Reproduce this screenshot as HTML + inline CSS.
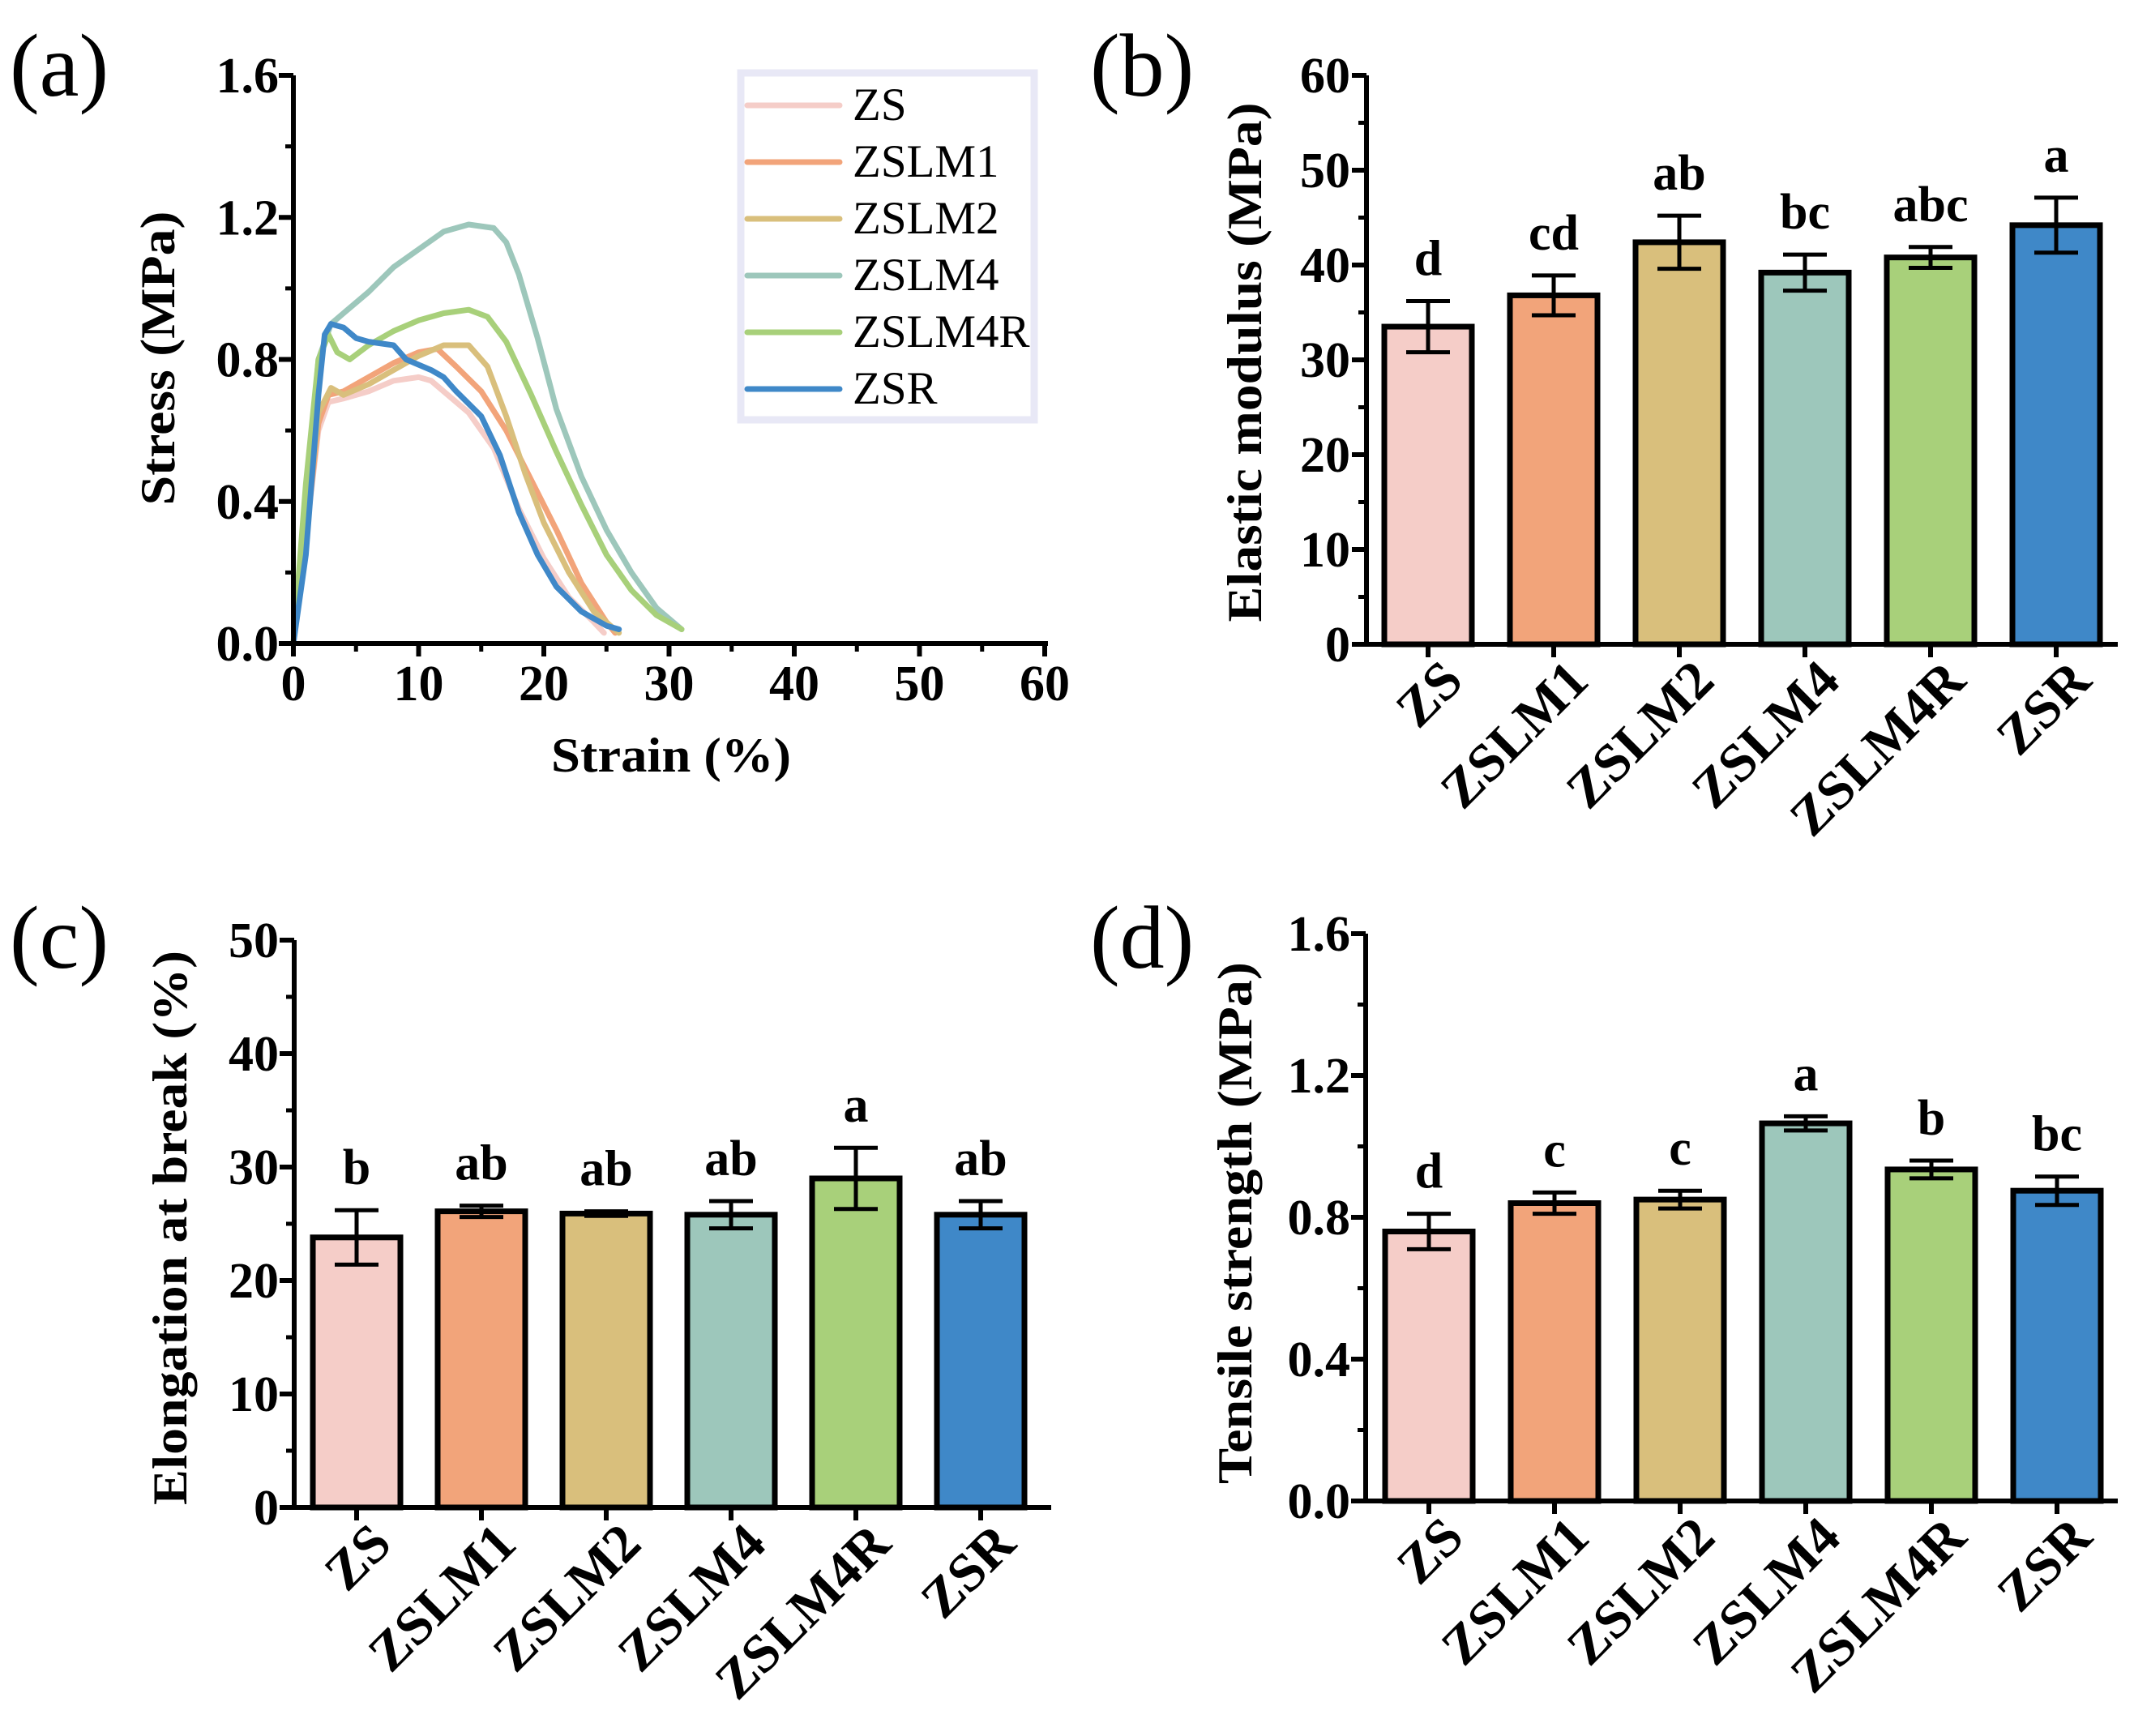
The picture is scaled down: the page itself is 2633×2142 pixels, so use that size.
<!DOCTYPE html>
<html><head><meta charset="utf-8"><style>
html,body{margin:0;padding:0;background:#fff;}
svg{display:block;}
text{font-family:"Liberation Serif","Times New Roman",serif;}
.b{font-weight:bold;}
</style></head><body>
<svg id="fig" width="2633" height="2142" viewBox="0 0 2633 2142" xmlns="http://www.w3.org/2000/svg">
<g id="gA"></g>
<g id="gB"></g>
<g id="gC"></g>
<g id="gD"></g>
</svg>
<script>
const samples = ["ZS","ZSLM1","ZSLM2","ZSLM4","ZSLM4R","ZSR"];
const colors = ["#f5cdc8","#f2a47a","#d9bf7c","#9dc7bb","#a8d07a","#3f88c8"];
// Panel a curves: strain (%) and stress (MPa)
const zsX = [0,1,2,2.8,4,6,8,10,11,12,14,16,18,20,22,24,24.8];
const zsY = [0,0.3,0.6,0.68,0.69,0.71,0.74,0.75,0.74,0.71,0.65,0.55,0.38,0.24,0.13,0.06,0.03];
const m1X = [0,1,2,2.8,4,6,8,10,11.5,13,15,17,19,21,23,25,25.7];
const m1Y = [0,0.3,0.62,0.7,0.71,0.75,0.79,0.82,0.83,0.78,0.71,0.6,0.46,0.32,0.17,0.06,0.03];
const m2X = [0,1,2,3,4,6,8,10,12,14,15.5,17,18.5,20,22,24,26];
const m2Y = [0,0.3,0.65,0.72,0.7,0.73,0.77,0.81,0.84,0.84,0.78,0.64,0.48,0.34,0.2,0.09,0.03];
const m4X = [0,1,2,3,4,6,8,10,12,14,16,17,18,19.5,21,23,25,27,29,31];
const m4Y = [0,0.4,0.8,0.9,0.93,0.99,1.06,1.11,1.16,1.18,1.17,1.13,1.04,0.86,0.66,0.47,0.32,0.2,0.1,0.04];
const m4rX = [0,1,2,2.8,3.5,4.5,6,8,10,12,14,15.5,17,19,21,23,25,27,29,31];
const m4rY = [0,0.45,0.8,0.87,0.82,0.8,0.84,0.88,0.91,0.93,0.94,0.92,0.85,0.7,0.54,0.39,0.25,0.15,0.08,0.04];
const zsrX = [0,1,2,2.5,3,4,5,6,8,9,11,12,13,15,16.5,18,19.5,21,23,25,26];
const zsrY = [0,0.25,0.7,0.87,0.9,0.89,0.86,0.85,0.84,0.8,0.77,0.75,0.71,0.64,0.53,0.37,0.25,0.16,0.09,0.05,0.04];
const aXTicks = [0,10,20,30,40,50,60];
const aYTicks = ["0.0","0.4","0.8","1.2","1.6"];
// Panel b
const modMean = [33.5,36.8,42.4,39.2,40.8,44.2];
const modErr = [2.7,2.1,2.8,1.9,1.1,2.9];
const modLet = ["d","cd","ab","bc","abc","a"];
const bTicks = [0,10,20,30,40,50,60];
// Panel c
const elMean = [23.8,26.1,25.9,25.8,29.0,25.8];
const elErr = [2.4,0.5,0.2,1.2,2.7,1.2];
const elLet = ["b","ab","ab","ab","a","ab"];
const cTicks = [0,10,20,30,40,50];
// Panel d
const tsMean = [0.76,0.84,0.85,1.065,0.935,0.875];
const tsErr = [0.05,0.03,0.025,0.02,0.025,0.04];
const tsLet = ["d","c","c","a","b","bc"];
const dTicks = ["0.0","0.4","0.8","1.2","1.6"];

const NS="http://www.w3.org/2000/svg";
function mk(parent,tag,attrs,txt){const e=document.createElementNS(NS,tag);for(const k in attrs)e.setAttribute(k,attrs[k]);if(txt!==undefined)e.textContent=txt;parent.appendChild(e);return e;}

function panelLabel(g,x,y,s){
  const t=mk(g,'text',{x:x,y:y,'font-size':110},s);
  
  
}
function yTitle(g,cx,cy,len,s){
  const t=mk(g,'text',{x:0,y:0,'font-size':60,'class':'b','text-anchor':'middle',textLength:len,lengthAdjust:'spacingAndGlyphs',transform:`translate(${cx},${cy}) rotate(-90)`},s);
  
  
}
function axes(g,x0,y0,yTop,xEnd){
  const a=mk(g,'path',{d:`M${x0} ${yTop}V${y0}H${xEnd}`,stroke:'#000','stroke-width':6,fill:'none'});
  
  
}
function yAxisTicks(g,x0,y0,yTop,labels,vmax,labelX){
  const n=labels.length;
  for(let i=0;i<n;i++){
    const v=parseFloat(labels[i]);const y=y0-(y0-yTop)*v/vmax;
    const t=mk(g,'line',{x1:x0-18,x2:x0,y1:y,y2:y,stroke:'#000','stroke-width':6});
    
    
    const l=mk(g,'text',{x:labelX,y:y+21,'font-size':62,'class':'b','text-anchor':'end'},labels[i]);
    
    
    if(i<n-1){const ym=y-(y0-yTop)/(n-1)/2;
      const m=mk(g,'line',{x1:x0-10,x2:x0,y1:ym,y2:ym,stroke:'#000','stroke-width':5});
      
      }
  }
}
function barPanel(g,opt){
  const {x0,y0,yTop,xEnd,vmax,cx0,step,mean,err,lets,name}=opt;
  const sy=v=>y0-(y0-yTop)*v/vmax;
  const bw=108;
  for(let i=0;i<samples.length;i++){
    const cx=cx0+step*i;
    const r=mk(g,'rect',{x:cx-bw/2,y:sy(mean[i]),width:bw,height:y0-sy(mean[i]),fill:colors[i],stroke:'#000','stroke-width':7});
    
    
    const yt=sy(mean[i]+err[i]),yb=sy(mean[i]-err[i]);
    const e=mk(g,'path',{d:`M${cx-27} ${yt}H${cx+27}M${cx} ${yt}V${yb}M${cx-27} ${yb}H${cx+27}`,stroke:'#000','stroke-width':5,fill:'none'});
    
    
    const l=mk(g,'text',{x:cx,y:yt-32,'font-size':62,'class':'b','text-anchor':'middle'},lets[i]);
    
    
    const tk=mk(g,'line',{x1:cx,x2:cx,y1:y0,y2:y0+16,stroke:'#000','stroke-width':6});
    
    
    const c=mk(g,'text',{x:0,y:0,'font-size':67,'class':'b','text-anchor':'end',transform:`translate(${cx+46},${y0+48}) rotate(-45)`},samples[i]);
    
    
  }
  axes(g,x0,y0,yTop,xEnd);
}

// ---------- Panel A ----------
(function(){
  const g=document.getElementById('gA');
  const x0=362,y0=794,yTop=93,x60=1289;
  const sx=v=>x0+(x60-x0)*v/60, sy=v=>y0-(y0-yTop)*v/1.6;
  panelLabel(g,12,118,'(a)');
  const series=[[zsX,zsY],[m1X,m1Y],[m2X,m2Y],[m4X,m4Y],[m4rX,m4rY],[zsrX,zsrY]];
  series.forEach((s,i)=>{
    const d=s[0].map((x,j)=>(j?'L':'M')+sx(x).toFixed(1)+' '+sy(s[1][j]).toFixed(1)).join('');
    const p=mk(g,'path',{d:d,stroke:colors[i],'stroke-width':7,fill:'none','stroke-linejoin':'round','stroke-linecap':'round'});
    
    
  });
  axes(g,x0,y0,yTop,x60+4);
  yAxisTicks(g,x0,y0,yTop,aYTicks,1.6,344);
  aXTicks.forEach((v,i)=>{
    const x=sx(v);
    const t=mk(g,'line',{x1:x,x2:x,y1:y0,y2:y0+16,stroke:'#000','stroke-width':6});
    
    
    const l=mk(g,'text',{x:x,y:y0+70,'font-size':62,'class':'b','text-anchor':'middle'},String(v));
    
    
    if(i<aXTicks.length-1){const xm=sx(v+5);
      const m=mk(g,'line',{x1:xm,x2:xm,y1:y0,y2:y0+10,stroke:'#000','stroke-width':5});
      
      }
  });
  const xt=mk(g,'text',{x:828,y:952,'font-size':60,'class':'b','text-anchor':'middle',textLength:296,lengthAdjust:'spacingAndGlyphs'},'Strain (%)');
  
  
  yTitle(g,215,442,363,'Stress (MPa)');
  const lg=mk(g,'g',{});
  
  
  mk(lg,'rect',{x:914,y:90,width:362,height:428,fill:'#fff',stroke:'#e8e8f6','stroke-width':9});
  samples.forEach((s,i)=>{
    const y=130+70*i;
    const e=mk(lg,'g',{});
    
    
    mk(e,'line',{x1:922,x2:1036,y1:y,y2:y,stroke:colors[i],'stroke-width':7,'stroke-linecap':'round'});
    mk(e,'text',{x:1052,y:y+18,'font-size':57},s);
  });
})();

// ---------- Panel B ----------
(function(){
  const g=document.getElementById('gB');
  panelLabel(g,1345,118,'(b)');
  barPanel(g,{x0:1686,y0:795,yTop:93,xEnd:2613,vmax:60,cx0:1762,step:155,mean:modMean,err:modErr,lets:modLet,name:'modulus'});
  yAxisTicks(g,1686,795,93,bTicks.map(String),60,1666);
  yTitle(g,1556,447,641,'Elastic modulus (MPa)');
})();

// ---------- Panel C ----------
(function(){
  const g=document.getElementById('gC');
  panelLabel(g,12,1194,'(c)');
  barPanel(g,{x0:363,y0:1860,yTop:1160,xEnd:1297,vmax:50,cx0:440,step:154,mean:elMean,err:elErr,lets:elLet,name:'elongation'});
  yAxisTicks(g,363,1860,1160,cTicks.map(String),50,344);
  yTitle(g,230,1515,684,'Elongation at break (%)');
})();

// ---------- Panel D ----------
(function(){
  const g=document.getElementById('gD');
  panelLabel(g,1345,1194,'(d)');
  barPanel(g,{x0:1685,y0:1852,yTop:1152,xEnd:2613,vmax:1.6,cx0:1763,step:155,mean:tsMean,err:tsErr,lets:tsLet,name:'tensile'});
  yAxisTicks(g,1685,1852,1152,dTicks,1.6,1666);
  yTitle(g,1544,1509,644,'Tensile strength (MPa)');
})();
</script>
</body></html>
